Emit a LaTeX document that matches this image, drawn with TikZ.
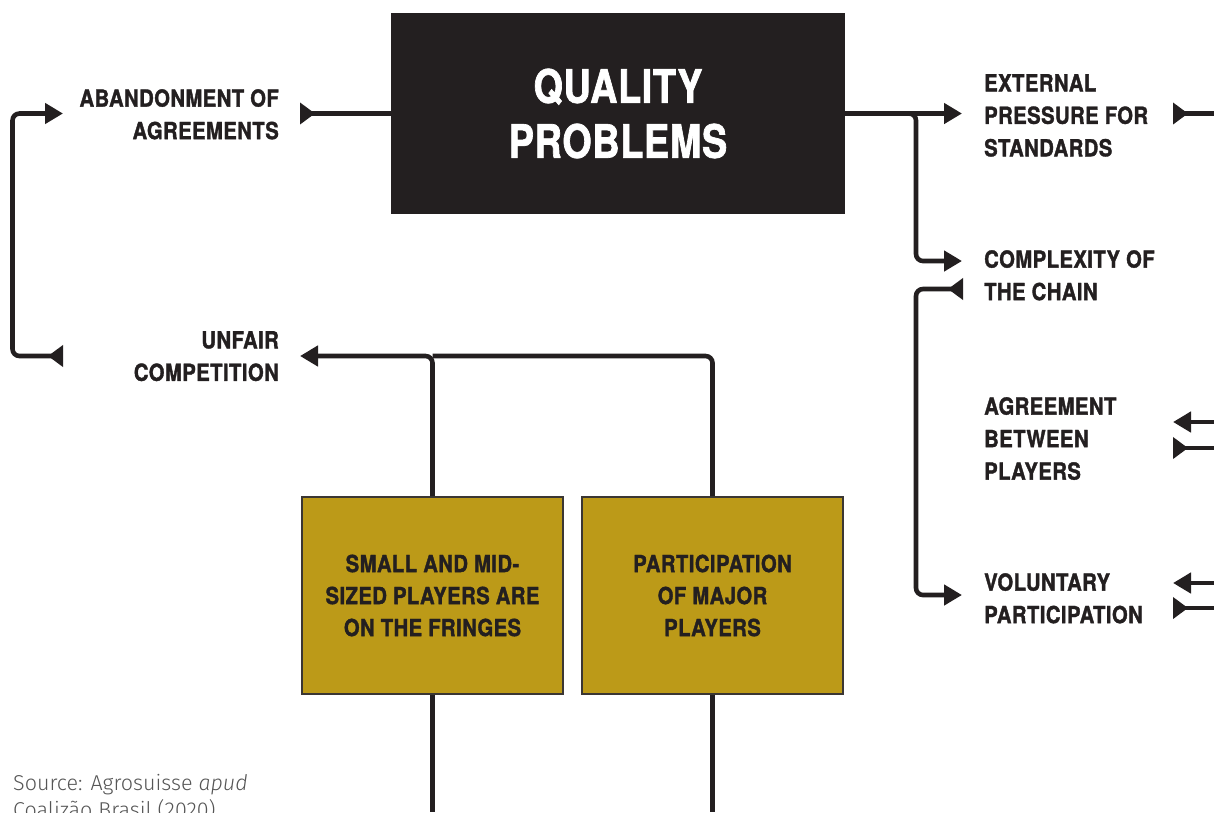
\documentclass[tikz,border=0pt]{standalone}
\usepackage{fontspec}
\usetikzlibrary{arrows.meta}
\newfontfamily\lblfont{TeX Gyre Heros}[FakeStretch=0.86,FakeBold=1.5,LetterSpace=2]
\newfontfamily\ttlfont{TeX Gyre Heros}[FakeStretch=0.82,FakeBold=1.5,LetterSpace=1.5]
\IfFontExistsTF{Fira Sans Light}{\newfontfamily\srcfont{Fira Sans Light}[ItalicFont={Fira Sans Light Italic}]}{\newfontfamily\srcfont{Fira Sans}}
\definecolor{ink}{HTML}{231F20}
\definecolor{gold}{RGB}{188,154,24}
\definecolor{boxedge}{HTML}{3A3633}
\definecolor{srcgrey}{HTML}{555555}
\tikzset{
  hd/.tip={Triangle[length=18pt,width=20pt]},
  tl/.tip={Triangle[reversed,length=15pt,width=21pt]},
  conn/.style={draw=ink, line width=4.6pt, rounded corners=7pt},
  lbl/.style={font=\lblfont\bfseries\fontsize{23.5}{32.5}\selectfont, text=ink, inner sep=0pt},
  lblL/.style={lbl, align=right, anchor=north east},
  lblR/.style={lbl, align=left, anchor=north west},
  titlebox/.style={fill=ink, minimum width=454pt, minimum height=201pt, inner sep=0pt,
    align=center, text=white, font=\ttlfont\bfseries\fontsize{46}{55}\selectfont},
  goldbox/.style={draw=boxedge, line width=2pt, fill=gold, minimum width=261pt, minimum height=197pt,
    inner sep=0pt, align=center, text=ink, font=\lblfont\bfseries\fontsize{23.5}{32}\selectfont},
  srcstyle/.style={font=\srcfont\fontsize{21.5}{27}\selectfont, text=srcgrey, inner sep=0pt,
    align=left, anchor=north west}
}
\begin{document}
\begin{tikzpicture}[x=1pt,y=-1pt]
\useasboundingbox (0,0) rectangle (1214,812);
% nodes
\node[titlebox] (qp) at (618,113.5) {QUALITY\\PROBLEMS};
\node[lblL] (ab) at (279,89) {ABANDONMENT OF\\AGREEMENTS};
\node[lblL] (uc) at (279,331) {UNFAIR\\COMPETITION};
\node[lblR] (ext) at (984,74) {EXTERNAL\\PRESSURE FOR\\STANDARDS};
\node[lblR] (cc) at (984,250) {COMPLEXITY OF\\THE CHAIN};
\node[lblR] (ag) at (984,397) {AGREEMENT\\BETWEEN\\PLAYERS};
\node[lblR] (vp) at (984,573) {VOLUNTARY\\PARTICIPATION};
\node[goldbox] (sm) at (432.5,595.5) {SMALL AND MID-\\SIZED PLAYERS ARE\\ON THE FRINGES};
\node[goldbox] (mp) at (712.5,595.5) {PARTICIPATION\\OF MAJOR\\PLAYERS};
\node[srcstyle] (source) at (13,774) {Source: Agrosuisse \textit{apud}\\Coalizão Brasil (2020)};
% ports
\coordinate (abOut) at (300,113.5);
\coordinate (abIn) at (63,113.5);
\coordinate (ucOut) at (63,356);
\coordinate (ucIn) at (300,356);
\coordinate (loopL) at (12.5,0);
\coordinate (extIn) at (962,113.5);
\coordinate (extOut) at (1173,113.5);
\coordinate (edgeR) at (1214,0);
\coordinate (ccIn) at (962,261);
\coordinate (ccOut) at (963,289);
\coordinate (vpIn) at (962,595);
\coordinate (rail) at (916,0);
\coordinate (agIn) at (1173,422);
\coordinate (agOut) at (1173,448);
\coordinate (vpRIn) at (1173,583);
\coordinate (vpROut) at (1173,608);
\coordinate (bottom) at (0,812);
% connectors
\draw[conn, tl-] (abOut) -- (qp.west);
\draw[conn, tl-hd] (ucOut) -- (loopL |- ucOut) -- (loopL |- abIn) -- (abIn);
\draw[conn, -hd] (qp.east) -- (extIn);
\draw[conn, -hd] (qp.east) -- (rail |- qp.east) -- (rail |- ccIn) -- (ccIn);
\draw[conn, tl-hd] (ccOut) -- (rail |- ccOut) -- (rail |- vpIn) -- (vpIn);
\draw[conn, tl-] (extOut) -- (edgeR |- extOut);
\draw[conn, -hd] (edgeR |- agIn) -- (agIn);
\draw[conn, tl-] (agOut) -- (edgeR |- agOut);
\draw[conn, -hd] (edgeR |- vpRIn) -- (vpRIn);
\draw[conn, tl-] (vpROut) -- (edgeR |- vpROut);
\draw[conn] (mp.north) -- (mp.north |- ucIn) -- (sm.north |- ucIn);
\draw[conn, -hd] (sm.north) -- (sm.north |- ucIn) -- (ucIn);
\draw[conn] (sm.south) -- (sm.south |- bottom);
\draw[conn] (mp.south) -- (mp.south |- bottom);
\end{tikzpicture}
\end{document}
